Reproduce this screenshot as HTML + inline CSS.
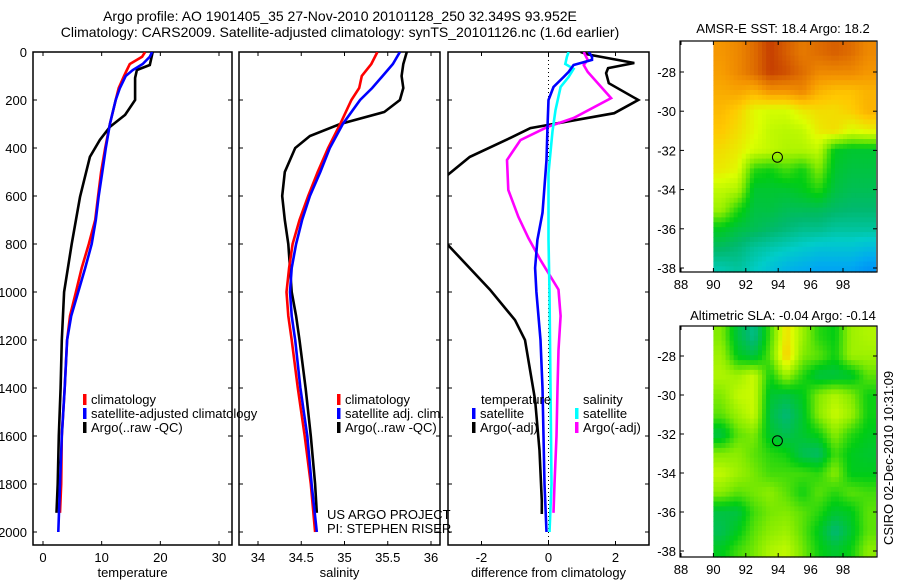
<!DOCTYPE html>
<html><head><meta charset="utf-8"><style>
body{margin:0;background:#fff;}
svg{display:block;font-family:"Liberation Sans",sans-serif;}
</style></head><body>
<svg id="fig" width="900" height="580" viewBox="0 0 900 580">
<text x="340" y="21" font-size="14" text-anchor="middle">Argo profile: AO 1901405_35 27-Nov-2010 20101128_250 32.349S 93.952E</text>
<text x="340" y="37" font-size="14" text-anchor="middle">Climatology: CARS2009. Satellite-adjusted climatology: synTS_20101126.nc (1.6d earlier)</text>
<text x="783" y="33" font-size="13" text-anchor="middle">AMSR-E SST: 18.4  Argo: 18.2</text>
<text x="783" y="320" font-size="13" text-anchor="middle">Altimetric SLA: -0.04  Argo: -0.14</text>
<text transform="translate(893,545) rotate(-90)" font-size="13">CSIRO 02-Dec-2010 10:31:09</text>
<text x="327" y="519" font-size="13">US ARGO PROJECT</text>
<text x="327" y="533" font-size="13">PI: STEPHEN RISER</text>
<g id="g"></g>
</svg>
<script>
// ---- data ----
const depthT = [0,20,50,75,100,150,200,300,400,500,600,700,800,900,1000,1100,1200,1400,1600,1800,1920];
const tempClim = [17.4,16.9,14.8,14.3,13.8,12.9,12.4,11.4,10.6,9.9,9.4,8.9,7.8,6.6,5.6,4.6,4.1,3.7,3.2,3.1,2.9];
const depthB = [0,20,50,75,100,150,200,300,400,500,600,700,800,900,1000,1100,1200,1400,1600,1800,2000];
const tempSat = [18.6,18.2,17.0,15.3,14.1,13.1,12.4,11.4,10.7,10.1,9.5,9.0,8.3,7.2,6.0,4.8,4.1,3.7,3.2,2.9,2.6];
const depthArgoT = [0,54,75,108,200,262,312,366,437,604,800,1000,1200,1400,1600,1800,1920];
const tempArgo = [18.7,18.2,16.0,15.7,15.7,14.0,11.4,9.7,8.0,6.3,4.9,3.6,3.2,3.0,2.7,2.5,2.3];
const depthS = [0,50,100,150,200,250,300,350,400,500,600,700,800,900,1000,1100,1200,1400,1600,1800,1920];
const salArgo = [35.72,35.68,35.66,35.68,35.64,35.46,34.95,34.60,34.43,34.31,34.28,34.31,34.35,34.37,34.39,34.44,34.48,34.55,34.61,34.66,34.68];
const depthS2 = [0,50,100,150,200,300,400,500,600,700,800,900,1000,1100,1200,1400,1600,1800,2000];
const salClim = [35.38,35.31,35.20,35.17,35.08,34.95,34.81,34.69,34.58,34.48,34.40,34.36,34.33,34.35,34.39,34.46,34.54,34.61,34.66];
const salSat = [35.64,35.56,35.44,35.32,35.18,34.98,34.83,34.72,34.60,34.51,34.44,34.39,34.37,34.39,34.43,34.49,34.57,34.62,34.68];
const depthDT = [0,20,33,54,83,104,146,200,312,450,670,783,900,1000,1200,1400,1600,1800,2000];
const dTsat = [1.2,1.3,1.3,0.75,0.6,0.45,0.15,0,-0.03,-0.06,-0.18,-0.33,-0.4,-0.36,-0.24,-0.18,-0.15,-0.12,-0.06];
const depthDA = [0,10,46,67,88,130,200,255,317,358,437,546,700,804,990,1117,1200,1450,1660,1870,1925];
const dTargo = [0.96,1.17,2.56,1.78,1.72,1.8,2.68,1.96,-0.54,-1.14,-2.35,-3.3,-4.5,-3.0,-1.75,-1.0,-0.7,-0.4,-0.27,-0.2,-0.2];
const depthDS = [0,20,50,70,104,146,242,330,504,783,1000,1400,1800,2000];
const dSsat = [0.6,0.55,0.5,0.75,0.6,0.36,0.21,0.12,0,0,0.03,0.06,0.09,0.03];
const depthDM = [0,33,54,83,192,275,312,367,450,575,687,775,867,990,1100,1242,1400,1600,1800,1920];
const dSargo = [1.05,1.17,1.05,1.17,1.87,0.75,-0.03,-0.84,-1.24,-1.2,-0.9,-0.6,-0.24,0.3,0.36,0.3,0.27,0.24,0.18,0.15];
const depthTicks = [0,200,400,600,800,1000,1200,1400,1600,1800,2000];
const tempTicks = [0,10,20,30];
const salTicks = [34,34.5,35,35.5,36];
const diffTicks = [-2,0,2];
const lonTicks = [88,90,92,94,96,98];
const latTicks = [-28,-30,-32,-34,-36,-38];
const lats = [-27,-28,-29,-30,-31,-32,-33,-34,-35,-36,-37,-38];
const lons = [90.5,91.5,92.5,93.5,94.5,95.5,96.5,97.5,98.5,99.5];
const sst = [
[.80,.82,.86,.92,.88,.84,.86,.88,.86,.82],
[.79,.82,.86,.92,.90,.86,.82,.82,.82,.80],
[.77,.78,.76,.80,.80,.82,.76,.74,.74,.76],
[.75,.72,.66,.64,.64,.68,.70,.70,.72,.76],
[.73,.70,.66,.62,.61,.62,.68,.70,.65,.67],
[.70,.68,.64,.62,.60,.60,.62,.44,.42,.42],
[.68,.66,.48,.46,.50,.46,.55,.42,.40,.40],
[.62,.60,.42,.42,.42,.44,.48,.40,.38,.38],
[.58,.48,.40,.40,.38,.38,.38,.36,.35,.35],
[.44,.40,.38,.36,.34,.32,.32,.30,.30,.30],
[.36,.34,.30,.28,.26,.24,.22,.22,.22,.20],
[.28,.30,.26,.22,.18,.16,.14,.14,.14,.10]];
const sla = [
[.55,.40,.32,.50,.70,.58,.48,.45,.58,.60],
[.58,.44,.40,.52,.73,.55,.52,.46,.58,.58],
[.60,.58,.63,.46,.58,.48,.40,.40,.42,.52],
[.55,.62,.63,.42,.40,.44,.55,.60,.55,.46],
[.52,.58,.63,.40,.34,.42,.56,.63,.58,.46],
[.40,.52,.55,.42,.38,.42,.46,.56,.48,.44],
[.55,.56,.52,.48,.46,.38,.36,.50,.44,.42],
[.62,.58,.54,.50,.50,.50,.48,.56,.44,.44],
[.56,.52,.54,.56,.52,.46,.52,.48,.52,.50],
[.40,.40,.50,.54,.55,.52,.48,.42,.44,.52],
[.38,.44,.52,.56,.58,.52,.44,.34,.42,.52],
[.44,.50,.54,.60,.62,.54,.46,.42,.46,.56]];
const floatLon = 93.952, floatLat = -32.349;

// ---- helpers ----
const NS='http://www.w3.org/2000/svg';
const G=document.getElementById('g');
function mk(tag,attrs,parent){const e=document.createElementNS(NS,tag);for(const k in attrs)e.setAttribute(k,attrs[k]);(parent||G).appendChild(e);return e;}
function lin(d0,d1,r0,r1){return v=>r0+(v-d0)*(r1-r0)/(d1-d0);}
const yD = lin(0,2000,52,532);
const Y0=52,Y1=545;

function panel(x0,x1,xs,ticks,fmt,label,name,showY){
  const g=mk('g',{});
  
  
  const clip=mk('clipPath',{id:'c'+name},g);
  mk('rect',{x:x0,y:Y0,width:x1-x0,height:Y1-Y0},clip);
  const r=mk('rect',{x:x0,y:Y0,width:x1-x0,height:Y1-Y0,fill:'none',stroke:'#000','stroke-width':1.5},g);
  
  
  ticks.forEach(t=>{const x=xs(t);
    mk('line',{x1:x,x2:x,y1:Y1,y2:Y1-4,stroke:'#000'},g);mk('line',{x1:x,x2:x,y1:Y0,y2:Y0+4,stroke:'#000'},g);
    const tx=mk('text',{x:x,y:Y1+17,'font-size':13,'text-anchor':'middle'},g);tx.textContent=fmt(t);
    
    });
  depthTicks.forEach(d=>{const y=yD(d);
    mk('line',{x1:x0,x2:x0+4,y1:y,y2:y,stroke:'#000'},g);mk('line',{x1:x1,x2:x1-4,y1:y,y2:y,stroke:'#000'},g);
    if(showY){const tx=mk('text',{x:27,y:y+5,'font-size':13,'text-anchor':'end'},g);tx.textContent=d;
      
      }});
  const xl=mk('text',{x:(x0+x1)/2,y:577,'font-size':13,'text-anchor':'middle'},g);xl.textContent=label;
  
  
  return g;
}
function line(g,clipName,xs,vals,deps,color,name){
  const pts=vals.map((v,i)=>xs(v).toFixed(1)+','+yD(deps[i]).toFixed(1)).join(' ');
  const p=mk('polyline',{points:pts,fill:'none',stroke:color,'stroke-width':2.6,'clip-path':'url(#c'+clipName+')'},g);
  
  
}
function legend(g,x,y,color,text,name){
  const r=mk('rect',{x:x,y:y-10,width:3.5,height:11,fill:color},g);
  
  
  const t=mk('text',{x:x+8,y:y,'font-size':13},g);t.textContent=text;
  
  
}

// temperature panel
const xT=lin(0,30,43,219);
const p1=panel(33,232,xT,tempTicks,t=>t,'temperature','temp-panel',true);
line(p1,'temp-panel',xT,tempClim,depthT,'#f00','temp-climatology-line');
line(p1,'temp-panel',xT,tempArgo,depthArgoT,'#000','temp-argo-line');
line(p1,'temp-panel',xT,tempSat,depthB,'#00f','temp-satellite-line');
legend(p1,83,404,'#f00','climatology','legend-climatology');
legend(p1,83,418,'#00f','satellite-adjusted climatology','legend-satellite');
legend(p1,83,432,'#000','Argo(..raw -QC)','legend-argo');

// salinity panel
const xS=lin(34,36,258,431);
const p2=panel(239,440,xS,salTicks,t=>t,'salinity','sal-panel',false);
line(p2,'sal-panel',xS,salArgo,depthS,'#000','sal-argo-line');
line(p2,'sal-panel',xS,salClim,depthS2,'#f00','sal-climatology-line');
line(p2,'sal-panel',xS,salSat,depthS2,'#00f','sal-satellite-line');
legend(p2,337,404,'#f00','climatology','legend-sal-climatology');
legend(p2,337,418,'#00f','satellite adj. clim.','legend-sal-satellite');
legend(p2,337,432,'#000','Argo(..raw -QC)','legend-sal-argo');

// difference panel
const xDf=lin(-3,3,448,649);
const p3=panel(448,649,xDf,diffTicks,t=>t,'difference from climatology','diff-panel',false);
mk('line',{x1:xDf(0),x2:xDf(0),y1:Y0,y2:Y1,stroke:'#000','stroke-width':1,'stroke-dasharray':'1,3'},p3);
line(p3,'diff-panel',xDf,dTargo,depthDA,'#000','diff-temp-argo-line');
line(p3,'diff-panel',xDf,dSargo,depthDM,'#f0f','diff-sal-argo-line');
line(p3,'diff-panel',xDf,dSsat,depthDS,'#0ff','diff-sal-satellite-line');
line(p3,'diff-panel',xDf,dTsat,depthDT,'#00f','diff-temp-satellite-line');
const lt=mk('text',{x:481,y:404,'font-size':13},p3);lt.textContent='temperature';


const ls=mk('text',{x:583,y:404,'font-size':13},p3);ls.textContent='salinity';


legend(p3,472,418,'#00f','satellite','legend-diff-temp-satellite');
legend(p3,472,432,'#000','Argo(-adj)','legend-diff-temp-argo');
legend(p3,575,418,'#0ff','satellite','legend-diff-sal-satellite');
legend(p3,575,432,'#f0f','Argo(-adj)','legend-diff-sal-argo');

// ---- maps ----
const stops=[[0,[0,110,255]],[0.15,[0,170,240]],[0.25,[0,205,200]],[0.35,[0,185,110]],[0.45,[0,205,20]],[0.55,[130,235,0]],[0.65,[220,255,0]],[0.73,[255,200,0]],[0.8,[245,150,0]],[0.88,[215,95,0]],[0.96,[180,30,0]],[1,[150,0,0]]];
function cmap(v){v=Math.max(0,Math.min(1,v));for(let i=1;i<stops.length;i++){if(v<=stops[i][0]){const a=stops[i-1],b=stops[i];const f=(v-a[0])/(b[0]-a[0]);return 'rgb('+a[1].map((c,k)=>Math.round(c+(b[1][k]-c)*f)).join(',')+')';}}return 'rgb(150,0,0)';}
function sample(grid,lon,lat){
  let fx=(lon-90.5),fy=(-27-lat);fx=Math.max(0,Math.min(9,fx));fy=Math.max(0,Math.min(11,fy));
  const i0=Math.floor(fx),j0=Math.floor(fy),i1=Math.min(9,i0+1),j1=Math.min(11,j0+1),a=fx-i0,b=fy-j0;
  return grid[j0][i0]*(1-a)*(1-b)+grid[j0][i1]*a*(1-b)+grid[j1][i0]*(1-a)*b+grid[j1][i1]*a*b;
}
function map(yTop,yBot,y28,y38,grid,name){
  const g=mk('g',{});
  
  
  const xs=lin(88,98,681,843), ys=lin(-28,-38,y28,y38);
  const latTop=-28+(y28-yTop)/((y38-y28)/10);
  const step=0.25;
  for(let lat=latTop;ys(lat)<yBot;lat-=step){
    for(let lon=90;lon<100-1e-6;lon+=step){
      const v=sample(grid,lon+step/2,lat-step/2);
      const y=ys(lat), h=Math.min(ys(lat-step),yBot)-y;
      mk('rect',{x:xs(lon).toFixed(2),y:y.toFixed(2),width:(xs(Math.min(lon+step,100))-xs(lon)+0.6).toFixed(2),height:(h+0.6).toFixed(2),fill:cmap(v)},g);
    }
  }
  const x0=680,x1=877;
  mk('rect',{x:x0,y:yTop,width:x1-x0,height:yBot-yTop,fill:'none',stroke:'#000','stroke-width':1.2},g);
  lonTicks.forEach(t=>{const x=xs(t);mk('line',{x1:x,x2:x,y1:yBot,y2:yBot-4,stroke:'#000'},g);mk('line',{x1:x,x2:x,y1:yTop,y2:yTop+4,stroke:'#000'},g);
    const tx=mk('text',{x:x,y:yBot+17,'font-size':13,'text-anchor':'middle'},g);tx.textContent=t;
    
    });
  latTicks.forEach(t=>{const y=ys(t);mk('line',{x1:x0,x2:x0+4,y1:y,y2:y,stroke:'#000'},g);mk('line',{x1:x1,x2:x1-4,y1:y,y2:y,stroke:'#000'},g);
    const tx=mk('text',{x:676,y:y+5,'font-size':13,'text-anchor':'end'},g);tx.textContent=t;
    
    });
  const c=mk('circle',{cx:xs(floatLon),cy:ys(floatLat),r:5,fill:'none',stroke:'#000','stroke-width':1},g);
  
  
}
map(41,272,72,268,sst,'sst-map');
map(326,557,356,551,sla,'sla-map');
</script>
</body></html>
